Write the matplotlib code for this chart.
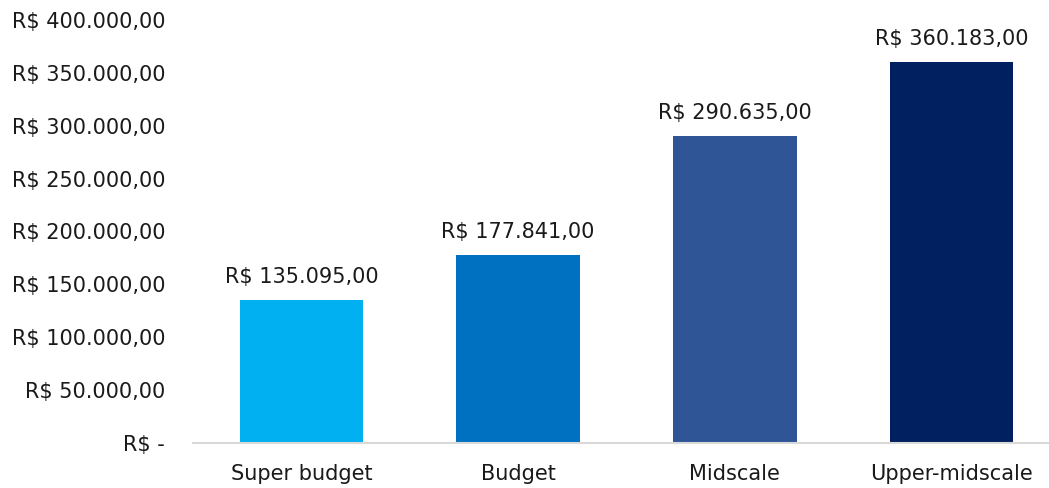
import matplotlib
matplotlib.use("Agg")
import matplotlib.pyplot as plt
from matplotlib.ticker import FuncFormatter

categories = ["Super budget", "Budget", "Midscale", "Upper-midscale"]
values = [135095.00, 177841.00, 290635.00, 360183.00]
colors = ["#00B0F0", "#0070C0", "#2F5597", "#002060"]
yticks = [0, 50000, 100000, 150000, 200000, 250000, 300000, 350000, 400000]

plt.rcParams['font.family'] = ['DejaVu Sans']

def brl(v):
    s = f"{v:,.2f}"
    s = s.replace(",", "X").replace(".", ",").replace("X", ".")
    return "R$ " + s

fig = plt.figure(figsize=(10.49, 4.88), dpi=100)
ax = fig.add_axes([193/1049, 45/488, 867/1049, 423/488])
x = range(len(categories))
ax.bar(x, values, width=0.57, color=colors, zorder=2)
for xi, v in zip(x, values):
    ax.text(xi, v + 12000, brl(v), ha="center", va="bottom", fontsize=15, color="#1a1a1a")

ax.set_xlim(-0.5, 3.5)
ax.set_ylim(0, 400000)
ax.set_yticks(yticks)
ax.yaxis.set_major_formatter(FuncFormatter(lambda v, p: "R$ -" if v == 0 else brl(v)))
ax.set_xticks(list(x))
ax.set_xticklabels(categories)
ax.tick_params(axis="both", length=0, labelsize=15, colors="#1a1a1a")
ax.tick_params(axis="y", pad=20)
ax.tick_params(axis="x", pad=15)
for side in ["top", "right", "left"]:
    ax.spines[side].set_visible(False)
ax.spines["bottom"].set_color("#D9D9D9")
ax.spines["bottom"].set_linewidth(1.5)

fig.savefig("out.png", dpi=100)
